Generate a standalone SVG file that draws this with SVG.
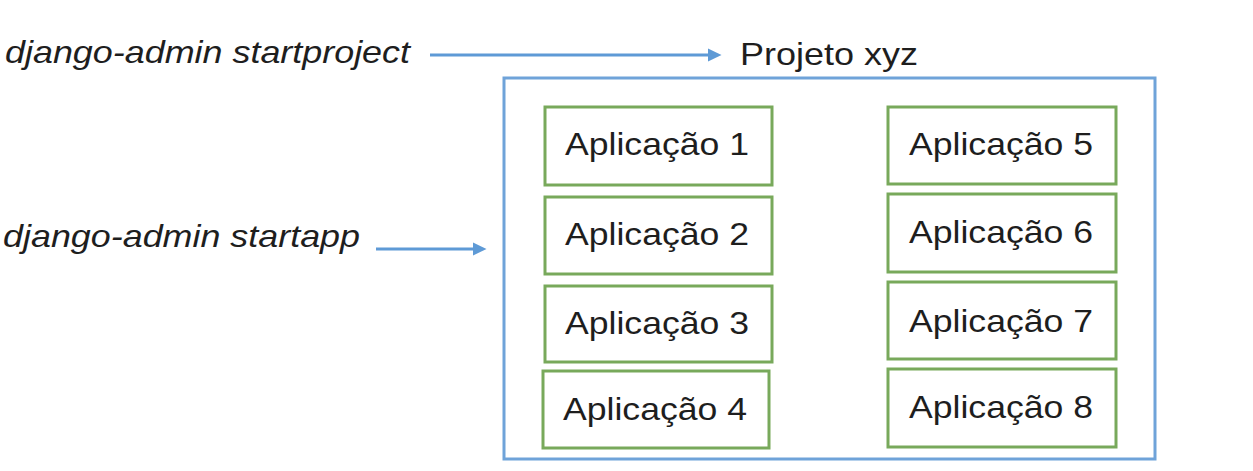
<svg xmlns="http://www.w3.org/2000/svg" width="1253" height="471" viewBox="0 0 1253 471">
<style>
.lbl{font-family:"Liberation Sans",Arial,sans-serif;font-size:32px;fill:#1e1e1e}
.it{font-style:italic}
.app rect{fill:#fff;stroke:#78a95b;stroke-width:3}
.app text{text-anchor:middle}
.conn{stroke:#5e9ad6;stroke-width:3;fill:none}
</style>
<defs>
<marker id="ah" markerWidth="4.5" markerHeight="4.4" refX="1" refY="2.2" orient="auto" markerUnits="strokeWidth">
<path d="M0,0 L4.5,2.2 L0,4.4 Z" fill="#5e9ad6"/>
</marker>
</defs>
<rect width="1253" height="471" fill="#fff"/>
<g id="label-startproject"><text class="lbl it" x="5" y="63" textLength="405" lengthAdjust="spacingAndGlyphs">django-admin startproject</text></g>
<g id="label-startapp"><text class="lbl it" x="3" y="247" textLength="357" lengthAdjust="spacingAndGlyphs">django-admin startapp</text></g>
<g id="projeto">
<text class="lbl" x="740" y="65" textLength="178" lengthAdjust="spacingAndGlyphs">Projeto xyz</text>
<rect x="504" y="78" width="651" height="381" fill="none" stroke="#6fa3d9" stroke-width="3"/>
</g>
<g id="app1" class="app"><rect x="545" y="107" width="227" height="78"/><text class="lbl" x="657" y="155" textLength="184" lengthAdjust="spacingAndGlyphs">Aplicação 1</text></g>
<g id="app2" class="app"><rect x="545" y="197" width="227" height="77"/><text class="lbl" x="657" y="245" textLength="184" lengthAdjust="spacingAndGlyphs">Aplicação 2</text></g>
<g id="app3" class="app"><rect x="545" y="286" width="227" height="76"/><text class="lbl" x="657" y="334" textLength="184" lengthAdjust="spacingAndGlyphs">Aplicação 3</text></g>
<g id="app4" class="app"><rect x="543" y="371" width="226" height="77"/><text class="lbl" x="655" y="420" textLength="184" lengthAdjust="spacingAndGlyphs">Aplicação 4</text></g>
<g id="app5" class="app"><rect x="888" y="107" width="228" height="77"/><text class="lbl" x="1001" y="155" textLength="184" lengthAdjust="spacingAndGlyphs">Aplicação 5</text></g>
<g id="app6" class="app"><rect x="888" y="194" width="228" height="78"/><text class="lbl" x="1001" y="243" textLength="184" lengthAdjust="spacingAndGlyphs">Aplicação 6</text></g>
<g id="app7" class="app"><rect x="888" y="282" width="228" height="77"/><text class="lbl" x="1001" y="332" textLength="184" lengthAdjust="spacingAndGlyphs">Aplicação 7</text></g>
<g id="app8" class="app"><rect x="888" y="369" width="228" height="78"/><text class="lbl" x="1001" y="418" textLength="184" lengthAdjust="spacingAndGlyphs">Aplicação 8</text></g>
<g id="connectors">
<line class="conn" x1="430" y1="55" x2="711" y2="55" marker-end="url(#ah)"/>
<line class="conn" x1="376" y1="249" x2="476" y2="249" marker-end="url(#ah)"/>
</g>
</svg>
